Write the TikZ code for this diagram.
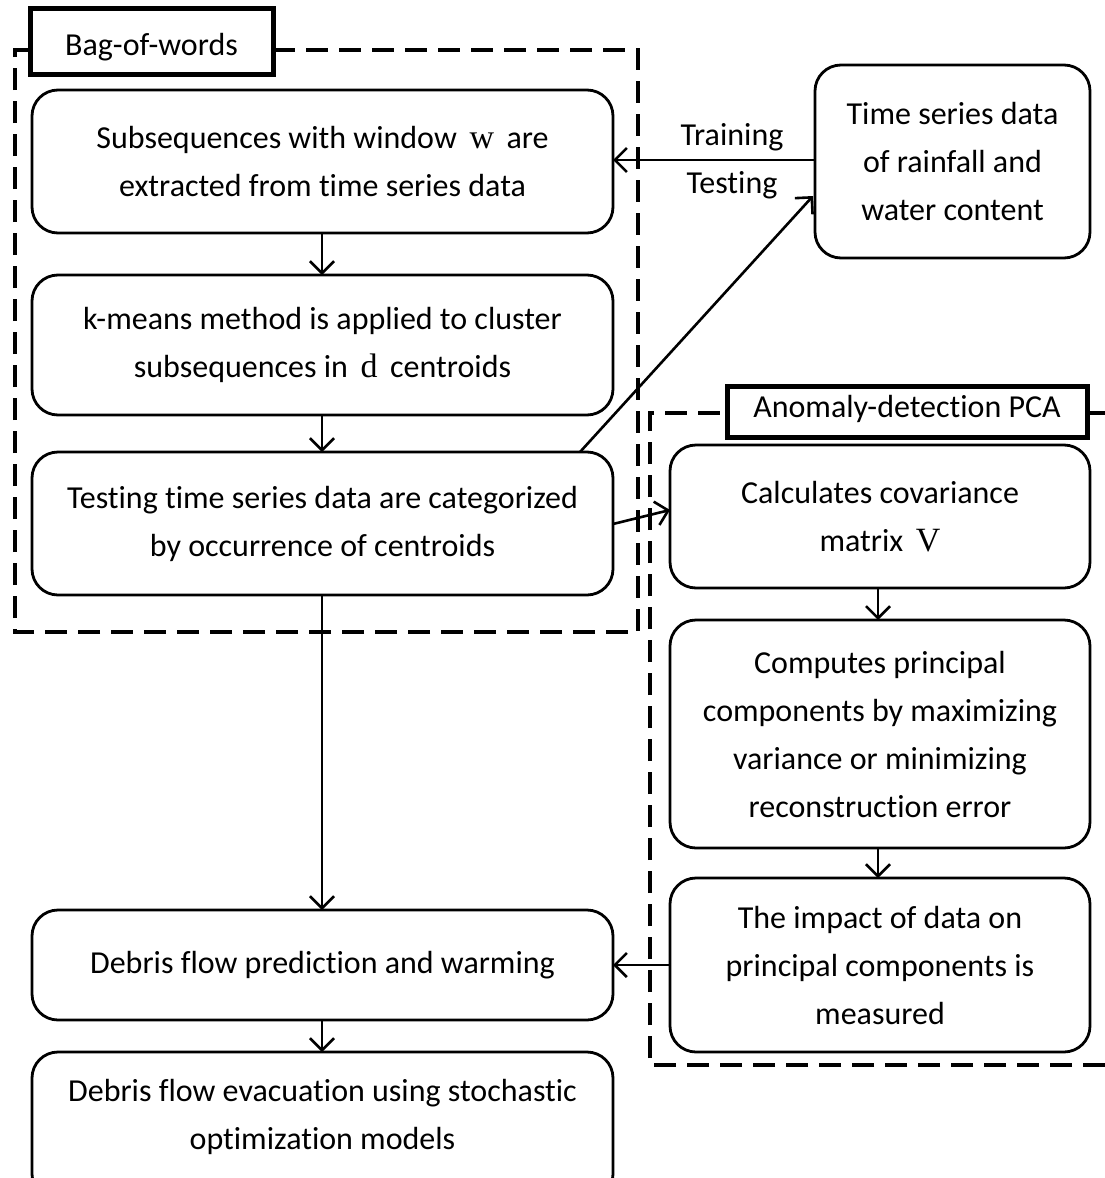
\documentclass[tikz,border=0pt]{standalone}
\usepackage{fontspec}
\setmainfont[Ligatures={NoCommon}]{Carlito}
\newfontfamily\mser{Liberation Serif}
\usetikzlibrary{arrows.meta}
\begin{document}
\begin{tikzpicture}[x=1pt,y=-1pt,
  box/.style={draw,line width=2.8pt,rounded corners=26pt},
  txt/.style={align=center,font=\fontsize{32}{48}\selectfont},
  arr/.style={line width=2.6pt,-{Straight Barb[length=12pt,width=24pt,line width=2.6pt]}},
  dashbox/.style={line width=4.5pt,dash pattern=on 22pt off 11pt},
  labbox/.style={draw,line width=5pt,fill=white},
  lab/.style={font=\fontsize{32}{34}\selectfont,inner sep=0pt}]
\useasboundingbox (0,0) rectangle (1105,1178);
\clip (0,0) rectangle (1105,1178);
% dashed groups
\draw[dashbox] (273,50) -- (638,50) -- (638,632) -- (15,632) -- (15,50) -- (30,50);
\draw[dashbox] (1105,1065) -- (650,1065) -- (650,413) -- (727,413);
\draw[dashbox] (1087,413) -- (1105,413);
\draw[labbox] (30,8) rectangle (273,74);
\node[lab] (bow) at (151.5,47) {Bag-of-words};
\draw[labbox] (727,386) rectangle (1087,437);
\node[lab] (adp) at (907,409) {Anomaly-detection PCA};
% boxes
\draw[box] (32,90) rectangle (613,233);
\node[txt] (b1) at (322.5,161.5) {Subsequences with window \,{\mser\fontsize{34}{48}\selectfont w}\, are\\extracted from time series data};
\draw[box] (32,275) rectangle (613,415);
\node[txt] (b2) at (322.5,345) {k-means method is applied to cluster\\subsequences in \,{\mser\fontsize{34}{48}\selectfont d}\, centroids};
\draw[box] (32,452) rectangle (613,595);
\node[txt] (b3) at (322.5,523.5) {Testing time series data are categorized\\by occurrence of centroids};
\draw[box] (32,910) rectangle (613,1020);
\node[txt] (b4) at (322.5,965) {Debris flow prediction and warming};
\draw[box] (32,1052) rectangle (613,1200);
\node[txt] (b5) at (322.5,1117) {Debris flow evacuation using stochastic\\optimization models};
\draw[box] (815,65) rectangle (1090,258);
\node[txt] (r0) at (952.5,161.5) {Time series data\\of rainfall and\\water content};
\draw[box] (670,445) rectangle (1090,588);
\node[txt] (r1) at (880,516.5) {Calculates covariance\\matrix \,{\mser\fontsize{34}{48}\selectfont V}};
\draw[box] (670,620) rectangle (1090,848);
\node[txt] (r2) at (880,734) {Computes principal\\components by maximizing\\variance or minimizing\\reconstruction error};
\draw[box] (670,878) rectangle (1090,1052);
\node[txt] (r3) at (880,965) {The impact of data on\\principal components is\\measured};
% connector anchor coordinates
\coordinate (r0w) at (815,160); \coordinate (b1e) at (613,160);
\coordinate (r0sw) at (813,196); \coordinate (b3n) at (580,452);
\coordinate (b1s) at (322,233); \coordinate (b2n) at (322,275);
\coordinate (b2s) at (322,415); \coordinate (b3nn) at (322,452);
\coordinate (b3e) at (613,524); \coordinate (r1w) at (670,510);
\coordinate (b3s) at (322,595); \coordinate (b4n) at (322,910);
\coordinate (b4s) at (322,1020); \coordinate (b5n) at (322,1052);
\coordinate (r1s) at (878,588); \coordinate (r2n) at (878,620);
\coordinate (r2s) at (878,848); \coordinate (r3n) at (878,878);
\coordinate (r3w) at (670,965); \coordinate (b4e) at (613,965);
% connectors
\draw[arr] (r0w) -- (b1e);
\node[txt] (tr) at (732,137) {Training};
\node[txt] (te) at (732,185) {Testing};
\draw[arr] (b3n) -- (r0sw);
\draw[arr] (b1s) -- (b2n);
\draw[arr] (b2s) -- (b3nn);
\draw[arr] (b3e) -- (r1w);
\draw[arr] (b3s) -- (b4n);
\draw[arr] (b4s) -- (b5n);
\draw[arr] (r1s) -- (r2n);
\draw[arr] (r2s) -- (r3n);
\draw[arr] (r3w) -- (b4e);
\end{tikzpicture}
\end{document}
